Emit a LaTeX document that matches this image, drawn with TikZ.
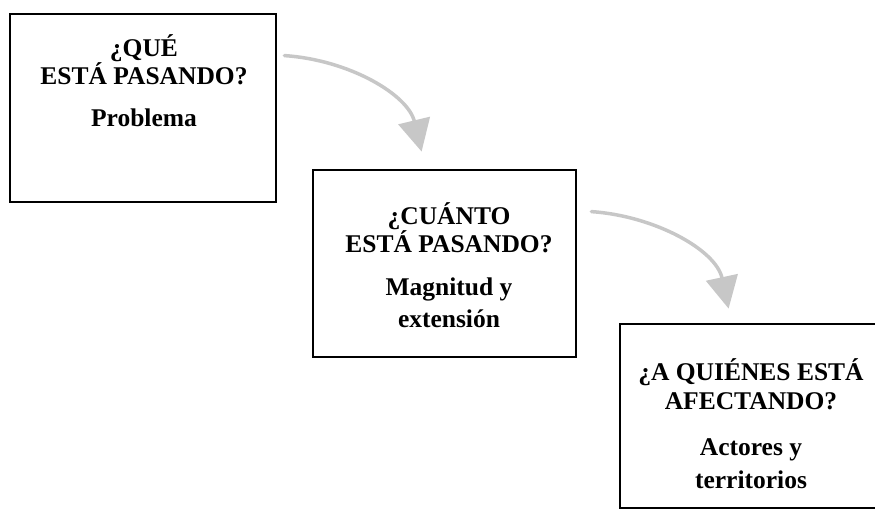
\documentclass[tikz,border=0pt]{standalone}
\usepackage{fontspec}
\setmainfont{Liberation Serif}
\usetikzlibrary{arrows.meta,calc}
\begin{document}
\begin{tikzpicture}[x=1pt,y=-1pt,
  box/.style={draw=black,line width=2.8pt,minimum width=#1,inner sep=0pt},
  txt/.style={anchor=base,font=\fontsize{25.5}{30}\selectfont\bfseries,inner sep=0pt},
  flow/.style={draw=black!22,line width=3.5pt,line cap=round,
    -{Triangle[length=32pt,width=32pt,color=black!22,fill=black!22]}}]
\useasboundingbox (0,0) rectangle (875,510);
\begin{scope}
\clip (0,0) rectangle (875,510);
\node[box=266pt,minimum height=188pt] (b1) at (143,108) {};
\node[box=263pt,minimum height=187pt] (b2) at (444.5,263.5) {};
\node[box=262pt,minimum height=184pt] (b3) at (751,416) {};
\end{scope}
% box 1 text
\node[txt] (t11) at (144,57) {¿QUÉ};
\node[txt] (t12) at (144,85) {ESTÁ PASANDO?};
\node[txt] (t13) at (144,127) {Problema};
% box 2 text
\node[txt] (t21) at (449,225) {¿CUÁNTO};
\node[txt] (t22) at (449,253) {ESTÁ PASANDO?};
\node[txt] (t23) at (449,296) {Magnitud y};
\node[txt] (t24) at (449,328) {extensión};
% box 3 text
\node[txt] (t31) at (751,381) {¿A QUIÉNES ESTÁ};
\node[txt] (t32) at (751,409) {AFECTANDO?};
\node[txt] (t33) at (751,455) {Actores y};
\node[txt] (t34) at (751,488) {territorios};
% connectors
\coordinate (a1s) at ($(b1.north east)+(7,43)$);
\coordinate (a1e) at ($(b2.north west)+(110,-17)$);
\coordinate (a2s) at ($(b2.north east)+(14,43)$);
\coordinate (a2e) at ($(b3.north west)+(110,-14)$);
\draw[flow] (a1s) .. controls (350,60) and (408,95) .. (a1e);
\draw[flow] (a2s) .. controls (655,216) and (716,250) .. (a2e);
\end{tikzpicture}
\end{document}
